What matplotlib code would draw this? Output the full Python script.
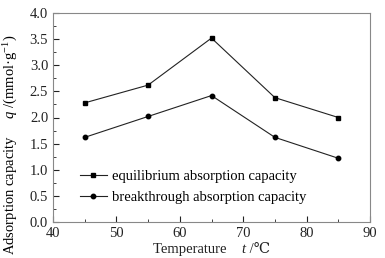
import numpy as np
import matplotlib
matplotlib.use('Agg')
import matplotlib.pyplot as plt
from matplotlib.ticker import MultipleLocator, FormatStrFormatter
from matplotlib.offsetbox import TextArea, HPacker, AnchoredOffsetbox

plt.rcParams['font.family'] = ['Liberation Serif', 'DejaVu Serif']
plt.rcParams['mathtext.fontset'] = 'custom'
plt.rcParams['mathtext.it'] = 'Liberation Serif:italic'
plt.rcParams['mathtext.rm'] = 'Liberation Serif'

temperature = [45, 55, 65, 75, 85]
equilibrium = [2.28, 2.62, 3.52, 2.38, 2.0]
breakthrough = [1.62, 2.02, 2.42, 1.62, 1.22]

fig = plt.figure(figsize=(3.85, 2.58), dpi=100)
ax = fig.add_axes([53/385, 36/258, 317/385, 209/258])

ax.plot(temperature, equilibrium, color='#222222', lw=0.8, marker='s', ms=3.2,
        markerfacecolor='black', markeredgecolor='black', label='equilibrium absorption capacity')
ax.plot(temperature, breakthrough, color='#222222', lw=0.8, marker='o', ms=3.2,
        markerfacecolor='black', markeredgecolor='black', label='breakthrough absorption capacity')

ax.set_xlim(40, 90)
ax.set_ylim(0, 4.0)
ax.xaxis.set_major_locator(MultipleLocator(10))
ax.xaxis.set_minor_locator(MultipleLocator(5))
ax.yaxis.set_major_locator(MultipleLocator(0.5))
ax.yaxis.set_minor_locator(MultipleLocator(0.25))
ax.yaxis.set_major_formatter(FormatStrFormatter('%.1f'))
ax.tick_params(which='both', direction='in', top=False, right=False, labelsize=10.5, colors='#222222')
ax.tick_params(which='major', length=4)
ax.tick_params(which='minor', length=2)
for s in ax.spines.values():
    s.set_color('#888888')
    s.set_linewidth(0.8)

# y label, placed lower than centre like the original
ax.set_ylabel(r'Adsorption capacity     $q$ /(mmol·g$^{-1}$)', fontsize=10.5)
ax.yaxis.set_label_coords(-0.105, 0.37)

# x label built from pieces so the italic t and the ℃ sign both render
parts = [TextArea('Temperature    ', textprops=dict(fontsize=10.5, color='#222222')),
         TextArea('t', textprops=dict(fontsize=10.5, style='italic', color='#222222')),
         TextArea(' /℃', textprops=dict(fontsize=10.5, color='#222222'))]
box = HPacker(children=parts, align='baseline', pad=0, sep=0)
anch = AnchoredOffsetbox(loc='upper center', child=box, pad=0, borderpad=0, frameon=False,
                         bbox_to_anchor=(0.5, -0.10), bbox_transform=ax.transAxes)
ax.add_artist(anch)

ax.legend(loc='center left', bbox_to_anchor=(0.085, 0.167), frameon=False, fontsize=10.5,
          handlelength=1.85, handletextpad=0.35, labelspacing=0.55, borderaxespad=0, borderpad=0)

fig.savefig('out.png', dpi=100)
